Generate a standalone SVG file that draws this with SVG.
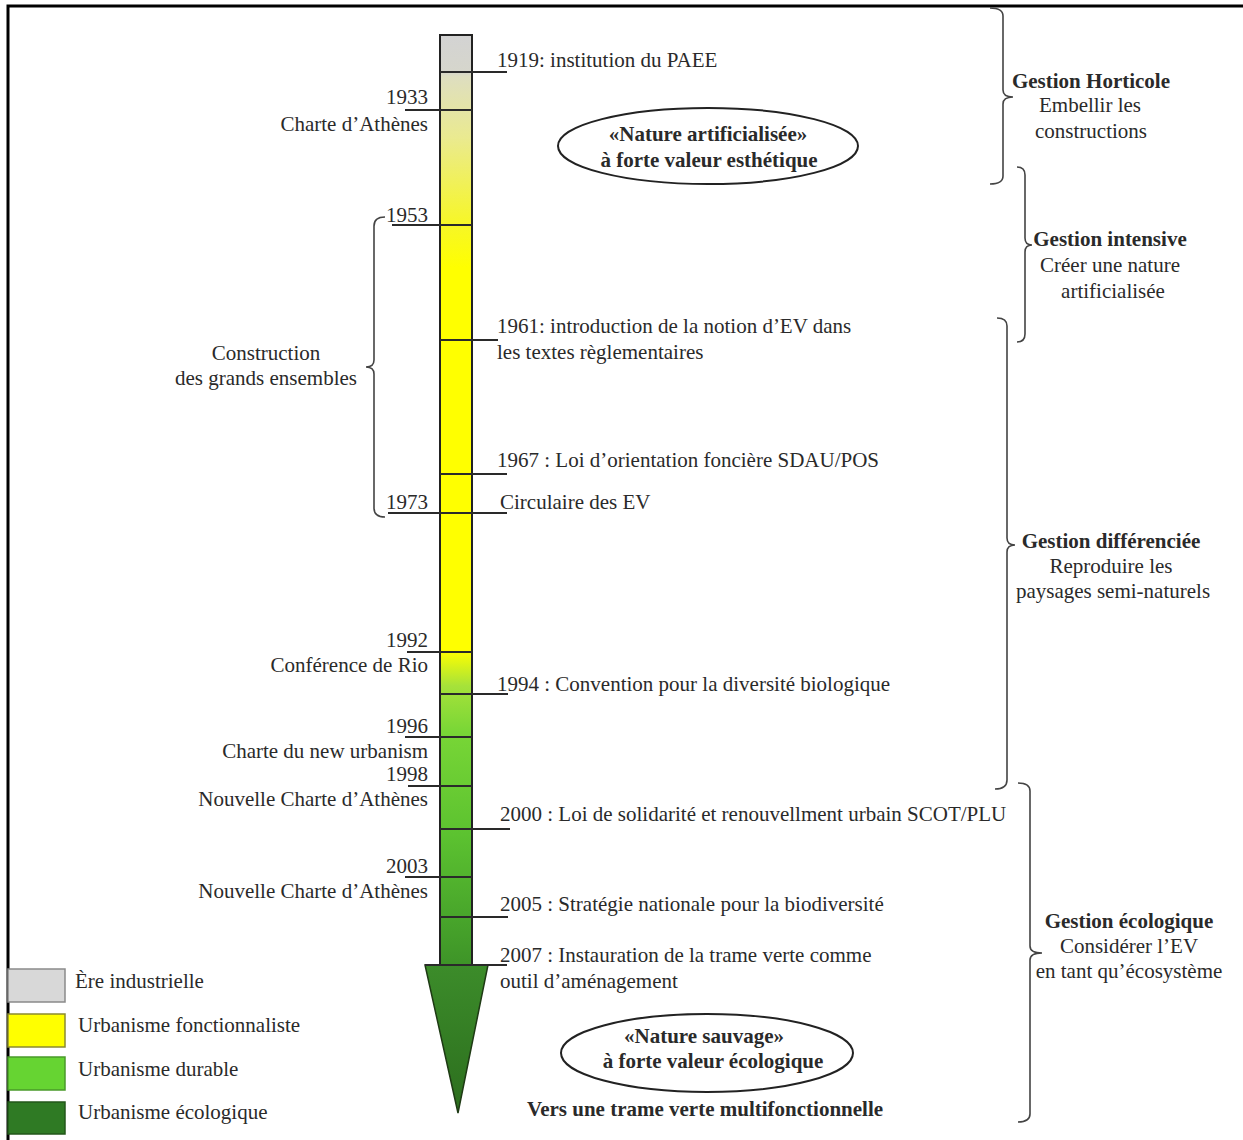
<svg xmlns="http://www.w3.org/2000/svg" width="1243" height="1140" viewBox="0 0 1243 1140">
<defs>
<linearGradient id="barGrad" x1="0" y1="35" x2="0" y2="965" gradientUnits="userSpaceOnUse">
<stop offset="0" stop-color="#d3d3d3"/>
<stop offset="0.04" stop-color="#d6d6cc"/>
<stop offset="0.045" stop-color="#dedec0"/>
<stop offset="0.11" stop-color="#eaea90"/>
<stop offset="0.2" stop-color="#f6f62a"/>
<stop offset="0.25" stop-color="#ffff00"/>
<stop offset="0.662" stop-color="#ffff00"/>
<stop offset="0.7" stop-color="#a6e23a"/>
<stop offset="0.75" stop-color="#78d636"/>
<stop offset="0.86" stop-color="#5cc230"/>
<stop offset="0.95" stop-color="#48a52b"/>
<stop offset="1" stop-color="#3e9428"/>
</linearGradient>
<linearGradient id="arrowGrad" x1="0" y1="0" x2="0" y2="1">
<stop offset="0" stop-color="#3c8c2a"/>
<stop offset="1" stop-color="#2c6e1e"/>
</linearGradient>
<style>
text{font-family:"Liberation Serif","Times New Roman",serif;font-size:21px;fill:#2a2a2a}
.b{font-weight:bold}
.r{text-anchor:end}
.m{text-anchor:middle}
.tick{stroke:#2a2a2a;stroke-width:2;fill:none}
.brace{stroke:#444;stroke-width:1.6;fill:none}
.oval{fill:none;stroke:#222;stroke-width:2}
</style>
</defs>
<rect x="0" y="0" width="1243" height="1140" fill="#fff"/>
<path d="M8,1140 V6 H1243" fill="none" stroke="#000" stroke-width="3"/>

<g id="timeline">
<rect x="440" y="35" width="32" height="930" fill="url(#barGrad)" stroke="#222" stroke-width="2"/>
<polygon points="425,965 488,965 458,1113" fill="url(#arrowGrad)" stroke="#1e3a14" stroke-width="1.5"/>
</g>

<g id="connectors">
<line class="tick" x1="440" y1="72" x2="507" y2="72"/>
<line class="tick" x1="405" y1="110" x2="472" y2="110"/>
<line class="tick" x1="392" y1="225" x2="472" y2="225"/>
<line class="tick" x1="440" y1="340" x2="498" y2="340"/>
<line class="tick" x1="440" y1="474" x2="507" y2="474"/>
<line class="tick" x1="388" y1="513" x2="507" y2="513"/>
<line class="tick" x1="407" y1="652" x2="472" y2="652"/>
<line class="tick" x1="440" y1="694" x2="508" y2="694"/>
<line class="tick" x1="405" y1="737" x2="472" y2="737"/>
<line class="tick" x1="408" y1="786" x2="472" y2="786"/>
<line class="tick" x1="440" y1="829" x2="510" y2="829"/>
<line class="tick" x1="405" y1="877" x2="472" y2="877"/>
<line class="tick" x1="440" y1="917" x2="508" y2="917"/>
<line class="tick" x1="425" y1="965" x2="507" y2="965"/>
<path class="brace" d="M385,217 Q374,217 374,226 V360 Q374,367 366,367 Q374,367 374,374 V508 Q374,517 385,517"/>
<path class="brace" d="M990,8 Q1003,8 1003,16 V90 Q1003,97 1013,97 Q1003,97 1003,104 V176 Q1003,184 990,184"/>
<path class="brace" d="M1017,167 Q1025,167 1025,175 V238 Q1025,245 1032,245 Q1025,245 1025,252 V334 Q1025,342 1017,342"/>
<path class="brace" d="M997,318 Q1007,318 1007,326 V538 Q1007,545 1015,545 Q1007,545 1007,552 V780 Q1007,789 995,789"/>
<path class="brace" d="M1018,783 Q1030,783 1030,791 V946 Q1030,953 1042,953 Q1030,953 1030,960 V1114 Q1030,1122 1018,1122"/>
</g>

<g id="events-left">
<text class="r" x="428" y="104">1933</text>
<text class="r" x="428" y="131">Charte d’Athènes</text>
<text class="r" x="428" y="222">1953</text>
<text class="r" x="428" y="509">1973</text>
<text class="r" x="428" y="647">1992</text>
<text class="r" x="428" y="672">Conférence de Rio</text>
<text class="r" x="428" y="733">1996</text>
<text class="r" x="428" y="758">Charte du new urbanism</text>
<text class="r" x="428" y="781">1998</text>
<text class="r" x="428" y="806">Nouvelle Charte d’Athènes</text>
<text class="r" x="428" y="873">2003</text>
<text class="r" x="428" y="898">Nouvelle Charte d’Athènes</text>
</g>

<g id="construction">
<text class="m" x="266" y="360">Construction</text>
<text class="m" x="266" y="385">des grands ensembles</text>
</g>

<g id="events-right">
<text x="497" y="67">1919: institution du PAEE</text>
<text x="497" y="333">1961: introduction de la notion d’EV dans</text>
<text x="497" y="359">les textes règlementaires</text>
<text x="497" y="467">1967 : Loi d’orientation foncière SDAU/POS</text>
<text x="500" y="509">Circulaire des EV</text>
<text x="497" y="691">1994 : Convention pour la diversité biologique</text>
<text x="500" y="821">2000 : Loi de solidarité et renouvellment urbain SCOT/PLU</text>
<text x="500" y="911">2005 : Stratégie nationale pour la biodiversité</text>
<text x="500" y="962">2007 : Instauration de la trame verte comme</text>
<text x="500" y="988">outil d’aménagement</text>
</g>

<g id="nature-artificialisee">
<ellipse class="oval" cx="708" cy="146" rx="150" ry="38"/>
<text class="b m" x="708" y="141">«Nature artificialisée»</text>
<text class="b m" x="709" y="167">à forte valeur esthétique</text>
</g>

<g id="nature-sauvage">
<ellipse class="oval" cx="707" cy="1053" rx="146" ry="39"/>
<text class="b m" x="704" y="1043">«Nature sauvage»</text>
<text class="b m" x="713" y="1068">à forte valeur écologique</text>
</g>

<g id="vers-trame">
<text class="b m" x="705" y="1116">Vers une trame verte multifonctionnelle</text>
</g>

<g id="gestion-horticole">
<text class="b m" x="1091" y="88">Gestion Horticole</text>
<text class="m" x="1090" y="112">Embellir les</text>
<text class="m" x="1091" y="138">constructions</text>
</g>
<g id="gestion-intensive">
<text class="b m" x="1110" y="246">Gestion intensive</text>
<text class="m" x="1110" y="272">Créer une nature</text>
<text class="m" x="1113" y="298">artificialisée</text>
</g>
<g id="gestion-differenciee">
<text class="b m" x="1111" y="548">Gestion différenciée</text>
<text class="m" x="1111" y="573">Reproduire les</text>
<text class="m" x="1113" y="598">paysages semi-naturels</text>
</g>
<g id="gestion-ecologique">
<text class="b m" x="1129" y="928">Gestion écologique</text>
<text class="m" x="1129" y="953">Considérer l’EV</text>
<text class="m" x="1129" y="978">en tant qu’écosystème</text>
</g>

<g id="legend">
<rect x="8" y="969" width="57" height="33" fill="#d8d8d8" stroke="#8a8a8a" stroke-width="1.5"/>
<rect x="8" y="1014" width="57" height="33" fill="#ffff00" stroke="#8a8a30" stroke-width="1.5"/>
<rect x="8" y="1057" width="57" height="33" fill="#66d432" stroke="#4a9a2a" stroke-width="1.5"/>
<rect x="8" y="1102" width="57" height="32" fill="#2f7a24" stroke="#23571a" stroke-width="1.5"/>
<text x="75" y="988">Ère industrielle</text>
<text x="78" y="1032">Urbanisme fonctionnaliste</text>
<text x="78" y="1076">Urbanisme durable</text>
<text x="78" y="1119">Urbanisme écologique</text>
</g>
</svg>
